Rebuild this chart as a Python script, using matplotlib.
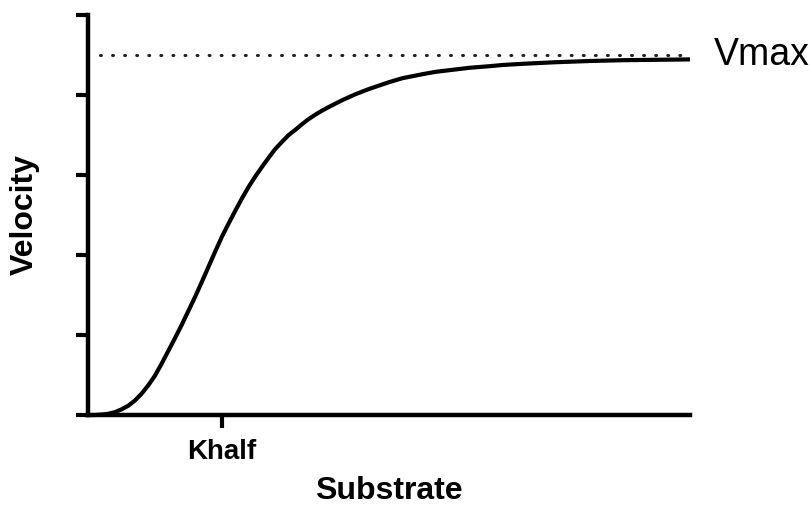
import matplotlib
matplotlib.use("Agg")
import matplotlib.pyplot as plt

plt.rcParams['font.family'] = ['Liberation Sans', 'DejaVu Sans']

# substrate concentration vs. measured velocity (sigmoidal kinetics)
substrate = [0, 1, 2, 3, 4, 5, 6, 7, 8, 9, 10, 11, 12, 13, 14, 15, 16, 17,
             18, 19, 20, 21, 22, 23, 24, 25, 26, 27, 28, 29, 30, 31, 32, 33,
             34, 35, 36, 38, 40, 42, 45, 47, 50, 52, 55, 57, 60, 62, 65, 70,
             75, 80, 85, 90]
velocity = [0, 0.0, 0.1, 0.3, 0.7, 1.4, 2.3, 3.6, 5.3, 7.4, 9.8, 12.8, 16.0,
            19.2, 22.5, 26.0, 29.5, 33.2, 37.0, 40.8, 44.5, 47.8, 51.0, 54.1,
            57.0, 59.6, 62.0, 64.3, 66.5, 68.3, 70.0, 71.3, 72.7, 74.0, 75.1,
            76.1, 77.0, 78.7, 80.2, 81.5, 83.2, 84.2, 85.2, 85.8, 86.4, 86.8,
            87.2, 87.5, 87.8, 88.2, 88.5, 88.7, 88.8, 88.9]

vmax = 90
khalf = 20
x_ticks = [khalf]
x_tick_labels = ['Khalf']
y_ticks = [0, 20, 40, 60, 80, 100]

fig = plt.figure(figsize=(8.11, 5.05), dpi=100)
ax = fig.add_axes([0.1085, 0.1782, 0.7423, 0.7921])

ax.plot(substrate, velocity, color='black', lw=3.0,
        solid_joinstyle='round', solid_capstyle='butt', clip_on=False)
ax.plot([1.8, 90], [vmax, vmax], color='#222222', lw=2.2,
        linestyle=(0, (0.3, 3.65)), dash_capstyle='round')

ax.set_xlim(0, 90)
ax.set_ylim(0, 100)
ax.set_xticks(x_ticks)
ax.set_xticklabels(x_tick_labels, fontsize=20, fontweight='bold')
ax.set_yticks(y_ticks)
ax.set_yticklabels([])

for side in ['top', 'right']:
    ax.spines[side].set_visible(False)
for side in ['left', 'bottom']:
    ax.spines[side].set_linewidth(3.2)
    ax.spines[side].set_capstyle('projecting')

ax.tick_params(axis='both', length=9, width=3.0, direction='out', pad=8)

ax.set_xlabel('Substrate', fontsize=23, fontweight='bold')
ax.set_ylabel('Velocity', fontsize=23, fontweight='bold')
ax.xaxis.set_label_coords(0.5, -0.152)
ax.yaxis.set_label_coords(-0.08, 0.5)

ax.text(1.04, vmax, 'Vmax', transform=ax.get_yaxis_transform(),
        fontsize=27, va='center', ha='left', clip_on=False)

fig.savefig('out.png', dpi=100)
